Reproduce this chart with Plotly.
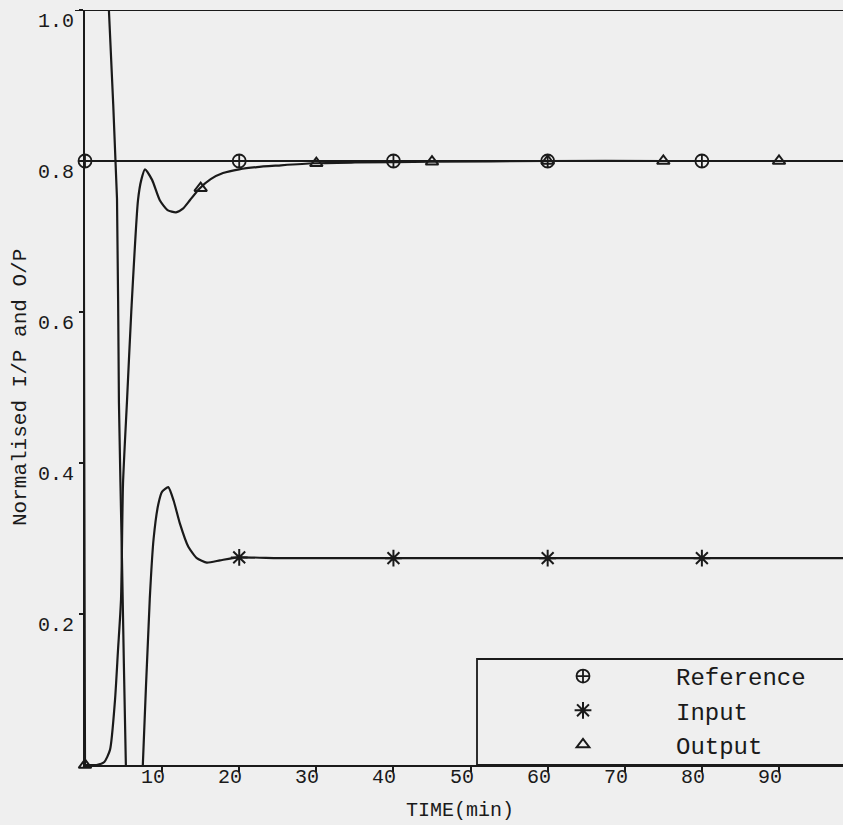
import plotly.graph_objects as go

# ---------------- data ----------------
ref_t = [0, 100]
ref_v = [0.8, 0.8]
ref_mark_t = [0, 20, 40, 60, 80]
ref_mark_v = [0.8, 0.8, 0.8, 0.8, 0.8]

input_t = [0, 0.01, 1.5, 3.1, 4.15, 4.4, 4.8, 5.3, 6.4, 7.5, 8.4, 8.9, 9.5, 10.0,
           10.8, 11.5, 12.3, 13.4, 14.5, 15.8, 17.5, 19.8, 25, 30, 40, 50, 60, 70, 80, 90, 100]
input_v = [0, 1.6, 1.3, 1.0, 0.75, 0.48, 0.27, 0.0, -0.35, 0.0, 0.22, 0.30, 0.345, 0.362,
           0.368, 0.35, 0.32, 0.289, 0.274, 0.268, 0.271, 0.275, 0.274, 0.274, 0.274, 0.274,
           0.274, 0.274, 0.274, 0.274, 0.274]
input_mark_t = [20, 40, 60, 80]
input_mark_v = [0.275, 0.274, 0.274, 0.274]

output_t = [0, 1.5, 2.5, 3.24, 3.89, 4.28, 4.67, 4.93, 5.45, 6.0, 6.87, 7.3, 7.78, 8.7,
            9.7, 10.7, 11.8, 12.7, 13.6, 14.8, 16.3, 17.9, 20, 22.3, 25, 29.6, 35, 45,
            60, 75, 90, 100]
output_v = [0, 0.0, 0.004, 0.02, 0.086, 0.152, 0.219, 0.373, 0.483, 0.6, 0.748, 0.775, 0.789,
            0.775, 0.748, 0.735, 0.732, 0.737, 0.748, 0.763, 0.776, 0.784, 0.789, 0.792,
            0.794, 0.797, 0.798, 0.799, 0.8, 0.8, 0.8, 0.8]
output_mark_t = [0, 15, 30, 45, 60, 75, 90]
output_mark_v = [0, 0.764, 0.797, 0.799, 0.8, 0.8, 0.8]

x_ticks = [10, 20, 30, 40, 50, 60, 70, 80, 90]
x_tick_labels = ["10", "20", "30", "40", "50", "60", "70", "80", "90"]
y_ticks = [0.2, 0.4, 0.6, 0.8, 1.0]
y_tick_labels = ["0.2", "0.4", "0.6", "0.8", "1.0"]

series_names = ["Reference", "Input", "Output"]
x_title = "TIME(min)"
y_title = "Normalised I/P and O/P"

# ---------------- style ----------------
FONT = "Liberation Mono, Courier New, monospace"
INK = "#1a1a1a"
BG = "#efefef"

fig = go.Figure()

# curves
fig.add_trace(go.Scatter(x=ref_t, y=ref_v, mode="lines", line=dict(color=INK, width=2.2),
                         showlegend=False, hoverinfo="skip"))
fig.add_trace(go.Scatter(x=input_t, y=input_v, mode="lines",
                         line=dict(color=INK, width=2.2, shape="spline", smoothing=0.5),
                         showlegend=False, hoverinfo="skip"))
fig.add_trace(go.Scatter(x=output_t, y=output_v, mode="lines",
                         line=dict(color=INK, width=2.2, shape="spline", smoothing=0.6),
                         showlegend=False, hoverinfo="skip"))

# markers (these carry the legend)
fig.add_trace(go.Scatter(x=ref_mark_t, y=ref_mark_v, mode="markers", name=series_names[0],
                         marker=dict(symbol="circle-cross-open", size=13, color=INK,
                                     line=dict(width=1.8, color=INK)), cliponaxis=False))
fig.add_trace(go.Scatter(x=input_mark_t, y=input_mark_v, mode="markers", name=series_names[1],
                         marker=dict(symbol="asterisk-open", size=14, color=INK,
                                     line=dict(width=2, color=INK)), cliponaxis=False))
fig.add_trace(go.Scatter(x=output_mark_t, y=output_mark_v, mode="markers", name=series_names[2],
                         marker=dict(symbol="triangle-up-open", size=11, color=INK,
                                     line=dict(width=2, color=INK)), cliponaxis=False))

# legend frame
fig.add_shape(type="rect", xref="paper", yref="paper", x0=(477 - 85) / 758, x1=1.05,
              y0=0, y1=(765 - 659) / 755, line=dict(color=INK, width=1.8), fillcolor=BG,
              layer="above")
# top frame line at 1.0 (extends slightly left of the y axis)
fig.add_shape(type="line", xref="paper", yref="y", x0=-10 / 758, x1=1.0, y0=1.0, y1=1.0,
              line=dict(color=INK, width=2), layer="above")

annotations = []
for v, lab in zip(x_ticks, x_tick_labels):
    annotations.append(dict(x=v, y=0, xref="x", yref="paper", text=lab, showarrow=False,
                            xanchor="center", yanchor="middle", xshift=-9, yshift=-12,
                            font=dict(family=FONT, size=20, color=INK)))
for v, lab in zip(y_ticks, y_tick_labels):
    annotations.append(dict(x=0, y=v, xref="paper", yref="y", text=lab, showarrow=False,
                            xanchor="right", yanchor="middle", xshift=-9, yshift=-11,
                            font=dict(family=FONT, size=20, color=INK)))
annotations.append(dict(x=(460 - 85) / 758, y=(765 - 810) / 755, xref="paper", yref="paper",
                        text=x_title, showarrow=False, xanchor="center", yanchor="middle",
                        font=dict(family=FONT, size=20, color=INK)))
annotations.append(dict(x=(20 - 85) / 758, y=(765 - 388) / 755, xref="paper", yref="paper",
                        text=y_title, showarrow=False, textangle=-90, xanchor="center",
                        yanchor="middle", font=dict(family=FONT, size=21, color=INK)))

fig.update_layout(
    width=843, height=825,
    margin=dict(l=85, r=0, t=10, b=60, pad=0),
    paper_bgcolor=BG, plot_bgcolor=BG,
    font=dict(family=FONT, color=INK),
    annotations=annotations,
    legend=dict(x=(490 - 85) / 758, y=(765 - 654) / 755, xanchor="left", yanchor="top",
                bgcolor="rgba(0,0,0,0)", borderwidth=0, itemwidth=176,
                font=dict(family=FONT, size=24, color=INK), tracegroupgap=0),
    xaxis=dict(range=[0, 98.3], tickvals=x_ticks, showticklabels=False, ticks="outside",
               ticklen=5, tickwidth=1.5, tickcolor=INK, showline=True, linecolor=INK,
               linewidth=2, showgrid=False, zeroline=False),
    yaxis=dict(range=[0, 1.0], tickvals=y_ticks, showticklabels=False, ticks="outside",
               ticklen=4, tickwidth=1.5, tickcolor=INK, showline=True, linecolor=INK,
               linewidth=2, showgrid=False, zeroline=False),
)

fig.write_html("out.html")
